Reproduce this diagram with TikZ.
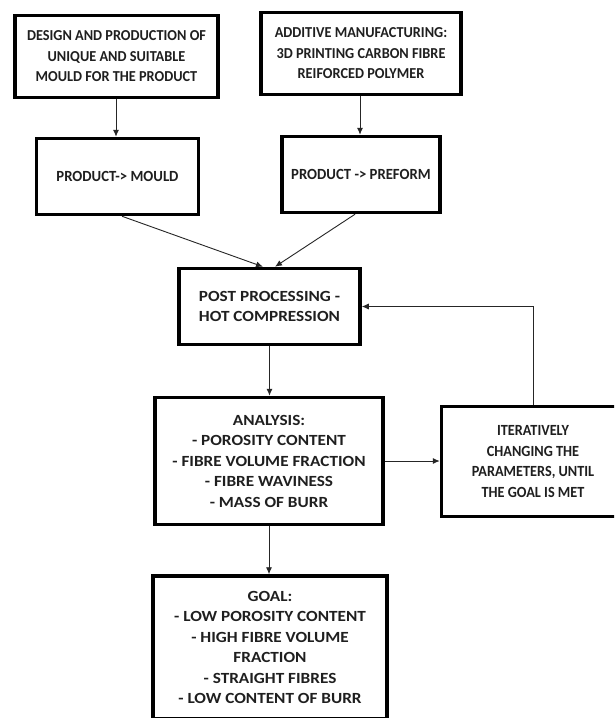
\documentclass[tikz,border=0pt]{standalone}
\usepackage{fontspec}
\setmainfont{Carlito}
\newfontfamily\narrowA[FakeStretch=0.94]{Carlito}
\newfontfamily\narrowB[FakeStretch=0.95]{Carlito}
\newfontfamily\narrowC[FakeStretch=0.92]{Carlito}
\newfontfamily\wideA[FakeStretch=1.11]{Carlito}
\usetikzlibrary{arrows.meta}
\tikzset{
  box/.style={draw=black, line width=3.5pt, fill=white, align=center, inner sep=2pt, text=black!88},
  fa/.style={font=\narrowA\fontsize{15.2}{20.5}\selectfont\bfseries},
  fb/.style={font=\narrowB\fontsize{15.5}{20.5}\selectfont\bfseries},
  fc/.style={font=\narrowC\fontsize{15.5}{20.5}\selectfont\bfseries},
  fw/.style={font=\wideA\fontsize{15.5}{20.5}\selectfont\bfseries},
  conn/.style={draw=black!85, line width=0.9pt, -{Latex[length=7pt,width=6pt]}}
}
\begin{document}
\begin{tikzpicture}[x=1pt,y=-1pt]
\useasboundingbox (0,0) rectangle (614,718);
\fill[white] (0,0) rectangle (614,718);
\begin{scope}
\clip (0,0) rectangle (614,718);
\node[box, fa, minimum width=203pt, minimum height=82pt] (b1) at (116.5,56.5)
  {DESIGN AND PRODUCTION OF\\UNIQUE AND SUITABLE\\MOULD FOR THE PRODUCT};
\node[box, fa, minimum width=200pt, minimum height=82pt] (b2) at (361,53.5)
  {ADDITIVE MANUFACTURING:\\3D PRINTING CARBON FIBRE\\REIFORCED POLYMER};
\node[box, fb, minimum width=162pt, minimum height=76pt] (b3) at (117.5,176.5)
  {PRODUCT-> MOULD};
\node[box, fb, minimum width=158pt, minimum height=76pt] (b4) at (361,174.5)
  {PRODUCT -> PREFORM};
\node[box, fw, minimum width=181pt, minimum height=76pt, align=left] (b5) at (269.5,306.5)
  {POST PROCESSING -\\HOT COMPRESSION};
\node[box, fw, minimum width=228pt, minimum height=127pt] (b6) at (269,461)
  {ANALYSIS:\\- POROSITY CONTENT\\- FIBRE VOLUME FRACTION\\- FIBRE WAVINESS\\- MASS OF BURR};
\node[box, fc, minimum width=183pt, minimum height=110pt] (b7) at (533,461.5)
  {ITERATIVELY\\CHANGING THE\\PARAMETERS, UNTIL\\THE GOAL IS MET};
\node[box, fw, minimum width=234pt, minimum height=143pt] (b8) at (270,647.5)
  {GOAL:\\- LOW POROSITY CONTENT\\- HIGH FIBRE VOLUME\\FRACTION\\- STRAIGHT FIBRES\\- LOW CONTENT OF BURR};
\draw[conn] ([xshift=-0.5pt]b1.south) -- ([xshift=-0.5pt]b1.south |- b3.north);
\draw[conn] ([xshift=-1pt]b2.south) -- ([xshift=-1pt]b2.south |- b4.north);
\draw[conn] ([xshift=4.5pt]b3.south) -- ([xshift=-6.5pt]b5.north);
\draw[conn] ([xshift=-6pt]b4.south) -- ([xshift=5.5pt]b5.north);
\draw[conn] (b5.south) -- (b5.south |- b6.north);
\draw[conn] (b6.south) -- (b6.south |- b8.north);
\draw[conn] (b6.east) -- (b6.east -| b7.west);
\draw[conn] (b7.north) |- (b5.east);
\end{scope}
\end{tikzpicture}
\end{document}
